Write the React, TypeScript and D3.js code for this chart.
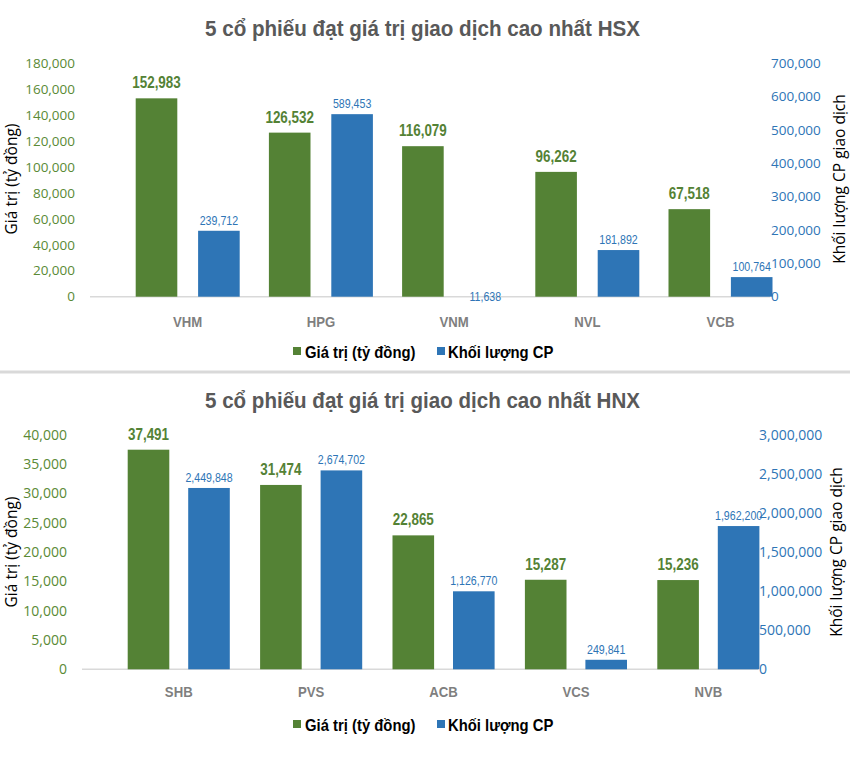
import * as d3 from "d3";

// HSX
const hsxCodes = ["VHM", "HPG", "VNM", "NVL", "VCB"];
const hsxValue = [152983, 126532, 116079, 96262, 67518];
const hsxVolume = [239712, 589453, 11638, 181892, 100764];

// HNX
const hnxCodes = ["SHB", "PVS", "ACB", "VCS", "NVB"];
const hnxValue = [37491, 31474, 22865, 15287, 15236];
const hnxVolume = [2449848, 2674702, 1126770, 249841, 1962200];

const GREEN = "#548235";
const BLUE = "#2e75b6";
const SANS = "'Liberation Sans', Arial, sans-serif";
const TICK = "'Open Sans', sans-serif";
const fmt = d3.format(",");

type PanelProps = {
  title: string;
  codes: string[];
  values: number[];
  volumes: number[];
  valueMax: number;
  valueTicks: number;
  volumeMax: number;
  volumeTicks: number;
  top: number;
  base: number;
  axisLeft: number;
  axisRight: number;
  bandStart: number;
  step: number;
  blueGap: number;
  volShift: number;
  leftTickX: number;
  tickSize: number;
  titleY: number;
  catY: number;
  legendY: number;
  leftTitleY: number;
  rightTitleX: number;
};

function Cond({ x, y, sx = 0.85, anchor = "middle", children, ...rest }: any) {
  return (
    <text
      transform={`translate(${x},${y}) scale(${sx},1)`}
      textAnchor={anchor}
      {...rest}
    >
      {children}
    </text>
  );
}

function Panel(p: PanelProps) {
  const x = d3
    .scaleBand()
    .domain(p.codes)
    .range([p.bandStart, p.bandStart + p.step * p.codes.length]);
  const yVal = d3.scaleLinear().domain([0, p.valueMax]).range([p.base, p.top]);
  const yVolAxis = d3.scaleLinear().domain([0, p.volumeMax]).range([p.base, p.top]);
  // the volume bars sit on a slightly lower zero than the axis shows
  const yVol = d3
    .scaleLinear()
    .domain([0, p.volumeMax])
    .range([p.base + p.volShift, p.top + p.volShift]);
  const barW = 41.6;
  const greenOff = 45.7;
  const blueOff = greenOff + p.blueGap;

  return (
    <g>
      <text
        x={422.5}
        y={p.titleY}
        textAnchor="middle"
        textLength={435}
        lengthAdjust="spacingAndGlyphs"
        fontFamily={SANS}
        fontWeight="bold"
        fontSize={22.5}
        fill="#595959"
      >
        {p.title}
      </text>

      {/* left ticks */}
      {yVal.ticks(p.valueTicks).map((t) => (
        <text
          key={"l" + t}
          x={p.leftTickX}
          y={yVal(t)}
          dy="0.35em"
          textAnchor="end"
          fontFamily={TICK}
          fontSize={p.tickSize}
          fill="#5a8a35"
        >
          {fmt(t)}
        </text>
      ))}
      {/* right ticks */}
      {yVolAxis.ticks(p.volumeTicks).map((t) => (
        <text
          key={"r" + t}
          x={p.axisRight + 1}
          y={yVolAxis(t)}
          dy="0.35em"
          textAnchor="start"
          fontFamily={TICK}
          fontSize={p.tickSize}
          fill={BLUE}
        >
          {fmt(t)}
        </text>
      ))}

      <text
        transform={`translate(17,${p.leftTitleY}) rotate(-90)`}
        textAnchor="middle"
        fontFamily={TICK}
        fontSize={15.5}
        fill="#000"
      >
        Giá trị (tỷ đồng)
      </text>
      <text
        transform={`translate(${p.rightTitleX},${p.leftTitleY}) rotate(-90)`}
        textAnchor="middle"
        fontFamily={TICK}
        fontSize={15.5}
        fill="#000"
      >
        Khối lượng CP giao dịch
      </text>

      <line
        x1={p.axisLeft}
        x2={p.axisRight}
        y1={p.base}
        y2={p.base}
        stroke="#d9d9d9"
        strokeWidth={1.5}
      />

      {p.codes.map((c, i) => {
        const x0 = x(c)!;
        const gTop = yVal(p.values[i]);
        const bTop = yVol(p.volumes[i]);
        const bH = Math.max(0, p.base - bTop);
        return (
          <g key={c}>
            <rect x={x0 + greenOff} y={gTop} width={barW} height={p.base - gTop} fill={GREEN} />
            {bH > 0 && (
              <rect x={x0 + blueOff} y={p.base - bH} width={barW} height={bH} fill={BLUE} />
            )}
            <Cond
              x={x0 + greenOff + barW / 2}
              y={gTop - 10}
              sx={0.84}
              fontFamily={SANS}
              fontWeight="bold"
              fontSize={16}
              fill={GREEN}
            >
              {fmt(p.values[i])}
            </Cond>
            <Cond
              x={x0 + blueOff + barW / 2}
              y={bTop - 6}
              sx={0.85}
              fontFamily={SANS}
              fontSize={12.5}
              fill={BLUE}
            >
              {fmt(p.volumes[i])}
            </Cond>
            <Cond
              x={x0 + (greenOff + blueOff + barW) / 2}
              y={p.catY}
              sx={0.85}
              fontFamily={SANS}
              fontWeight="bold"
              fontSize={15.5}
              fill="#7f7f7f"
            >
              {c}
            </Cond>
          </g>
        );
      })}

      {/* legend */}
      <rect x={293} y={p.legendY - 5} width={8} height={8} fill={GREEN} />
      <Cond x={305} y={p.legendY + 5.5} anchor="start" sx={0.9} fontFamily={SANS} fontWeight="bold" fontSize={16.5} fill="#000">
        Giá trị (tỷ đồng)
      </Cond>
      <rect x={437} y={p.legendY - 5} width={8} height={8} fill={BLUE} />
      <Cond x={448} y={p.legendY + 5.5} anchor="start" sx={0.9} fontFamily={SANS} fontWeight="bold" fontSize={16.5} fill="#000">
        Khối lượng CP
      </Cond>
    </g>
  );
}

export default function App() {
  return (
    <svg
      width={850}
      height={771}
      style={{ position: "absolute", left: 0, top: 0, background: "#fff" }}
    >
      <rect width={850} height={771} fill="#fff" />
      <Panel
        title="5 cổ phiếu đạt giá trị giao dịch cao nhất HSX"
        codes={hsxCodes}
        values={hsxValue}
        volumes={hsxVolume}
        valueMax={180000}
        valueTicks={9}
        volumeMax={700000}
        volumeTicks={7}
        top={63.3}
        base={296.7}
        axisLeft={90}
        axisRight={770}
        bandStart={90}
        step={133.2}
        blueGap={62.4}
        volShift={14}
        leftTickX={75}
        tickSize={13.5}
        titleY={36}
        catY={327}
        legendY={352}
        leftTitleY={179}
        rightTitleX={845}
      />
      <rect x={0} y={370.5} width={850} height={3} fill="#d9d9d9" />
      <Panel
        title="5 cổ phiếu đạt giá trị giao dịch cao nhất HNX"
        codes={hnxCodes}
        values={hnxValue}
        volumes={hnxVolume}
        valueMax={40000}
        valueTicks={8}
        volumeMax={3000000}
        volumeTicks={6}
        top={435}
        base={669.3}
        axisLeft={82}
        axisRight={758}
        bandStart={82}
        step={132.4}
        blueGap={60.5}
        volShift={10}
        leftTickX={67}
        tickSize={14}
        titleY={408}
        catY={697}
        legendY={725}
        leftTitleY={552}
        rightTitleX={842}
      />
    </svg>
  );
}
